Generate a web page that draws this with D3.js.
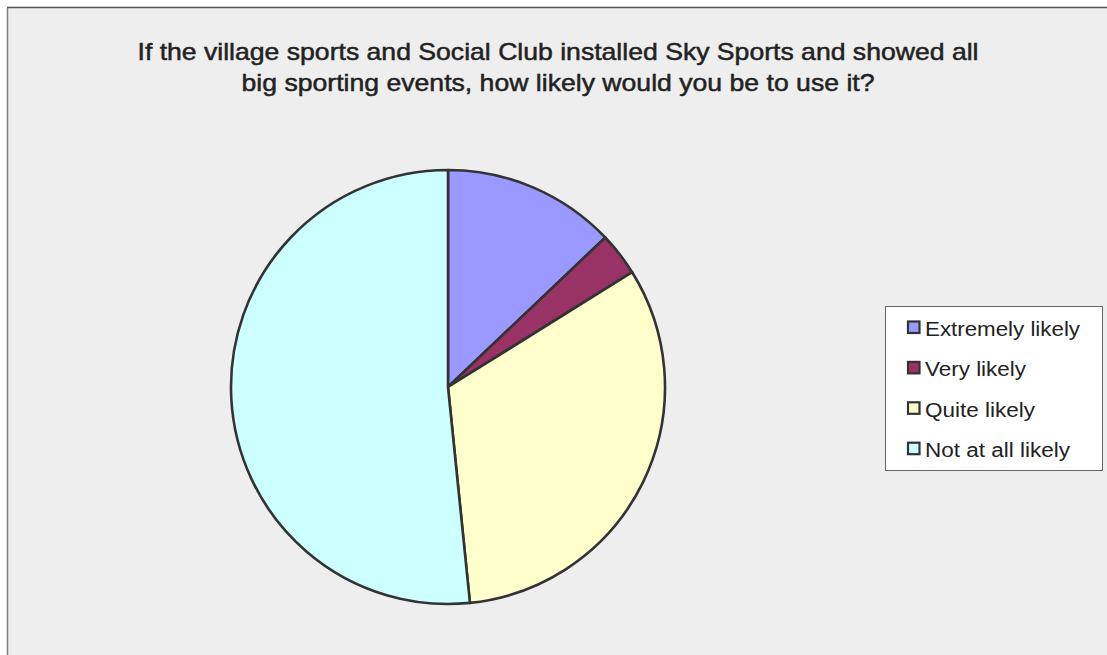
<!DOCTYPE html>
<html>
<head>
<meta charset="utf-8">
<script src="https://cdn.jsdelivr.net/npm/d3@7"></script>
<style>
html,body{margin:0;padding:0;background:#fff;}
svg{display:block;}
</style>
</head>
<body>
<svg id="chart" width="1107" height="655"></svg>
<script>
const categories = ["Extremely likely", "Very likely", "Quite likely", "Not at all likely"];
const values = [4, 1, 10, 16];
const colors = ["#9999ff", "#993366", "#ffffcc", "#ccffff"];
const titleLines = [
  "If the village sports and Social Club installed Sky Sports and showed all",
  "big sporting events, how likely would you be to use it?"
];

const svg = d3.select("#chart");
const W = 1107, H = 655;

// chart area background and border (left/top)
svg.append("rect").attr("x", 8).attr("y", 8).attr("width", W - 8).attr("height", H - 8).attr("fill", "#eeeeee");
svg.append("line").attr("x1", 7.5).attr("y1", 8).attr("x2", 7.5).attr("y2", H).attr("stroke", "#808080").attr("stroke-width", 1.5);
svg.append("line").attr("x1", 7).attr("y1", 7.5).attr("x2", W).attr("y2", 7.5).attr("stroke", "#555555").attr("stroke-width", 1.5);

// title
const titleW = [841, 633];
svg.append("g").selectAll("text").data(titleLines).join("text")
  .attr("x", 558).attr("y", (d, i) => 60 + i * 31)
  .attr("text-anchor", "middle")
  .attr("font-family", "Liberation Sans, Arial, sans-serif")
  .attr("font-size", 24)
  .attr("fill", "#222")
  .attr("stroke", "#222").attr("stroke-width", 0.5)
  .attr("textLength", (d, i) => titleW[i])
  .attr("lengthAdjust", "spacingAndGlyphs")
  .text(d => d);

// pie
const cx = 448, cy = 387, r = 217;
const pie = d3.pie().sort(null).value(d => d.v);
const arc = d3.arc().innerRadius(0).outerRadius(r);
const data = categories.map((c, i) => ({c, v: values[i], col: colors[i]}));
svg.append("g").attr("transform", `translate(${cx},${cy})`)
  .selectAll("path").data(pie(data)).join("path")
  .attr("d", arc)
  .attr("fill", d => d.data.col)
  .attr("stroke", "#333333")
  .attr("stroke-width", 2.6)
  .attr("stroke-linejoin", "round");

// legend
const lg = svg.append("g");
lg.append("rect").attr("x", 885.5).attr("y", 306.5).attr("width", 217).attr("height", 164)
  .attr("fill", "#ffffff").attr("stroke", "#666").attr("stroke-width", 1);
const legW = [155, 101, 110, 145];
const items = lg.selectAll("g.item").data(data).join("g").attr("class", "item")
  .attr("transform", (d, i) => `translate(0,${336 + i * 40.4})`);
items.append("rect").attr("x", 908).attr("y", -14.5).attr("width", 11.5).attr("height", 11.5)
  .attr("fill", d => d.col).attr("stroke", "#333").attr("stroke-width", 2.2);
items.append("text").attr("x", 925).attr("y", 0)
  .attr("font-family", "Liberation Sans, Arial, sans-serif")
  .attr("font-size", 20).attr("fill", "#222")
  .attr("textLength", (d, i) => legW[i])
  .attr("lengthAdjust", "spacingAndGlyphs")
  .text(d => d.c);
</script>
</body>
</html>
